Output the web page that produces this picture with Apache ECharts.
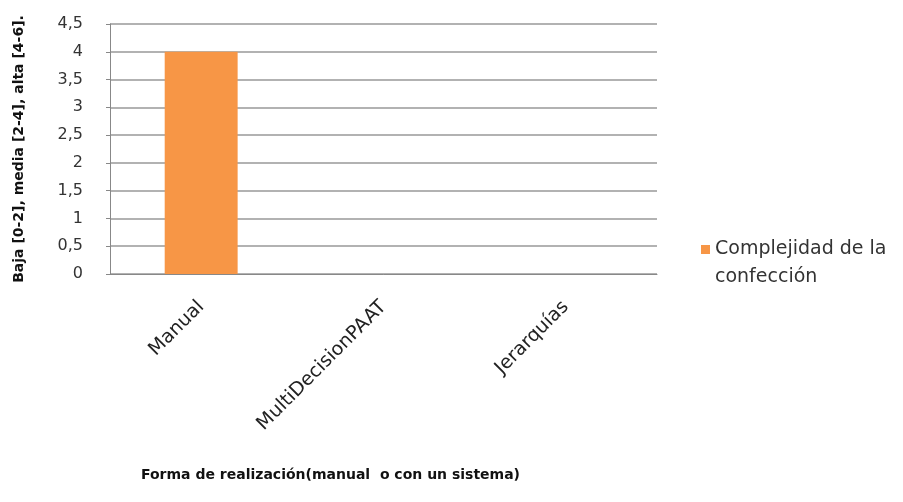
<!DOCTYPE html>
<html><head><meta charset="utf-8">
<script src="https://cdn.jsdelivr.net/npm/echarts@6/dist/echarts.min.js"></script>
<style>html,body{margin:0;padding:0;background:#fff}#c{width:903px;height:502px}</style>
</head><body><div id="c"></div>
<script>
const categories = ['Manual', 'MultiDecisionPAAT', 'Jerarquías'];
const values = [4, null, null];
const seriesName = 'Complejidad de la\nconfección';
const yTitle = 'Baja [0-2], media [2-4], alta [4-6].';
const xTitle = 'Forma de realización(manual  o con un sistema)';
const barColor = '#F79646';

const iconSvg = 'data:image/svg+xml;charset=utf-8,' + encodeURIComponent(
  '<svg xmlns="http://www.w3.org/2000/svg" width="9" height="36"><rect x="0" y="0" width="9" height="9" fill="' + barColor + '"/></svg>');

const chart = echarts.init(document.getElementById('c'));
chart.setOption({
  animation: false,
  grid: {left: 110, right: 246, top: 24, bottom: 228, containLabel: false},
  legend: {
    data: [{name: seriesName, icon: 'image://' + iconSvg}],
    orient: 'vertical', left: 696, top: 230,
    itemWidth: 9, itemHeight: 36, itemGap: 4,
    textStyle: {fontFamily: 'DejaVu Sans', fontSize: 19, color: '#333', lineHeight: 28}
  },
  xAxis: {
    type: 'category', data: categories,
    name: xTitle, nameLocation: 'middle', nameGap: 194,
    nameTextStyle: {fontFamily: 'DejaVu Sans', fontWeight: 'bold', fontSize: 14, color: '#111', padding: [0, 106, 0, 0]},
    axisLine: {show: true, lineStyle: {color: '#888', width: 1}},
    axisTick: {show: false},
    axisLabel: {rotate: 45, interval: 0, fontFamily: 'DejaVu Sans', fontSize: 19, color: '#222', margin: 30}
  },
  yAxis: {
    type: 'value', min: 0, max: 4.5, interval: 0.5,
    name: yTitle, nameLocation: 'middle', nameGap: 84, nameRotate: 90,
    nameTextStyle: {fontFamily: 'DejaVu Sans', fontWeight: 'bold', fontSize: 14, color: '#111'},
    axisLine: {show: true, lineStyle: {color: '#888'}},
    axisTick: {show: true, length: 4, lineStyle: {color: '#888'}},
    axisLabel: {fontFamily: 'DejaVu Sans', fontSize: 16, color: '#333', margin: 27,
      formatter: v => String(v).replace('.', ',')},
    splitLine: {lineStyle: {color: '#999', width: 1.5}}
  },
  series: [{
    name: seriesName, type: 'bar', data: values, barWidth: '40%',
    itemStyle: {color: barColor}
  }]
});
</script></body></html>
